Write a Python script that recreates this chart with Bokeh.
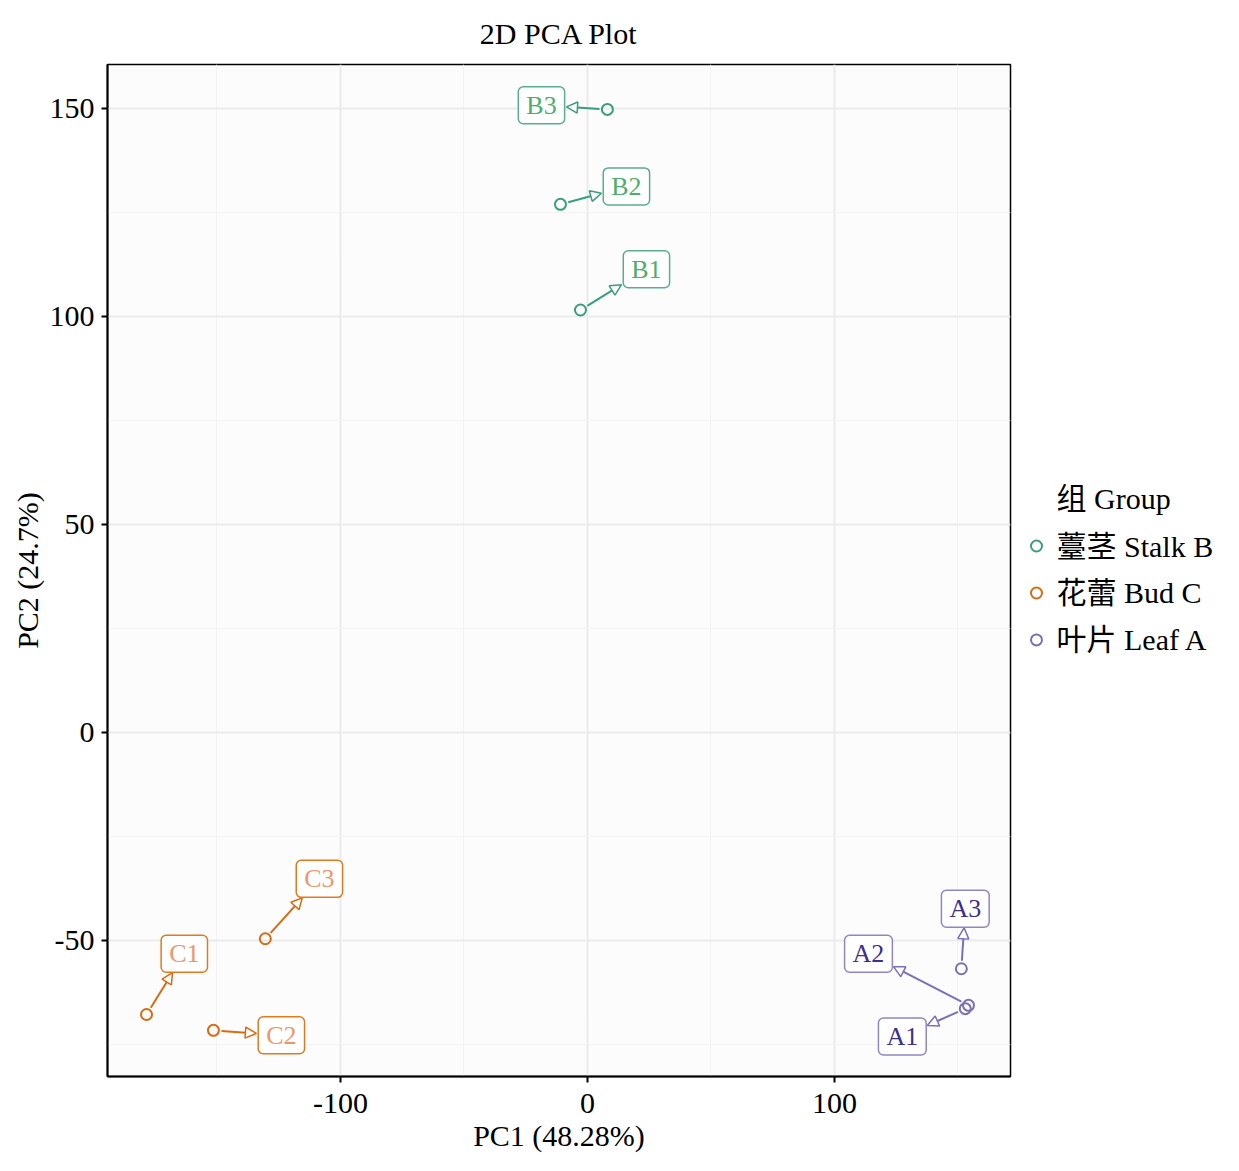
from bokeh.plotting import figure
from bokeh.layouts import row
from bokeh.models import (Range1d, FixedTicker, Label, Arrow, NormalHead, ColumnDataSource)
from bokeh.core.properties import value
from bokeh.embed import file_html
from bokeh.resources import INLINE

# ---- data ----
names = ["B1", "B2", "B3", "C1", "C2", "C3", "A1", "A2", "A3"]
groups = ["Stalk B"] * 3 + ["Bud C"] * 3 + ["Leaf A"] * 3
pc1 = [-2.8, -10.9, 8.1, -178.5, -151.4, -130.4, 153.0, 154.3, 151.4]
pc2 = [101.6, 127.0, 149.8, -67.7, -71.5, -49.5, -66.3, -65.5, -56.7]
# repelled label positions (data units)
label_x = [23.9, 15.8, -18.6, -163.2, -123.9, -108.5, 127.5, 113.8, 153.0]
label_y = [111.4, 131.3, 150.8, -53.1, -72.7, -35.1, -73.0, -53.1, -42.3]

group_order = ["Stalk B", "Bud C", "Leaf A"]
legend_title = "组 Group"
legend_labels = ["薹茎 Stalk B", "花蕾 Bud C", "叶片 Leaf A"]
x_ticks = [-100, 0, 100]
x_minor = [-150, -50, 50, 150]
y_ticks = [-50, 0, 50, 100, 150]
y_minor = [-75, -25, 25, 75, 125]

# ---- styles ----
pt_col = {"Stalk B": "#3A9E7E", "Bud C": "#DA6A10", "Leaf A": "#7B70B8"}
box_col = {"Stalk B": "#5AAE8F", "Bud C": "#E07A1E", "Leaf A": "#8F86C4"}
txt_col = {"Stalk B": "#4DAE6C", "Bud C": "#F0956A", "Leaf A": "#3D2F8C"}
FONT = "'Liberation Serif', 'Noto Sans CJK SC', serif"
FS = "30px"

x0, x1 = -194.3, 171.3
y0, y1 = -82.6, 160.6
FW, FH = 903, 1013
ML, MT, MB, MR = 107, 63, 92, 2
H = MT + FH + MB

p = figure(width=ML + FW + MR, height=H, output_backend="svg", toolbar_location=None,
           x_range=Range1d(x0, x1), y_range=Range1d(y0, y1),
           min_border_left=ML, min_border_top=MT, min_border_bottom=MB, min_border_right=MR,
           background_fill_color="#FCFCFC", border_fill_color="white")

p.title.text = "2D PCA Plot"
p.title.align = "center"
p.title.text_font = FONT
p.title.text_font_size = FS
p.title.text_font_style = "normal"
p.title.text_color = "black"
p.title.standoff = 29

p.xaxis.ticker = FixedTicker(ticks=x_ticks, minor_ticks=x_minor)
p.yaxis.ticker = FixedTicker(ticks=y_ticks, minor_ticks=y_minor)
p.xaxis.major_label_overrides = {t: str(t) for t in x_ticks}
p.yaxis.major_label_overrides = {t: str(t) for t in y_ticks}
p.xaxis.axis_label = "PC1 (48.28%)"
p.yaxis.axis_label = "PC2 (24.7%)"
for ax in (p.xaxis, p.yaxis):
    ax.axis_label_text_font = FONT
    ax.axis_label_text_font_size = FS
    ax.axis_label_text_font_style = "normal"
    ax.axis_label_text_color = "black"
    ax.major_label_text_font = FONT
    ax.major_label_text_font_size = FS
    ax.major_label_text_color = "black"
    ax.axis_line_color = "black"
    ax.axis_line_width = 2
    ax.major_tick_line_color = "black"
    ax.major_tick_line_width = 2
    ax.major_tick_out = 6
    ax.major_tick_in = 0
    ax.minor_tick_line_color = None
    ax.axis_label_standoff = 3
p.xaxis.major_label_standoff = 11
p.yaxis.major_label_standoff = 7

p.outline_line_color = "black"
p.outline_line_width = 1.5
for g in (p.xgrid, p.ygrid):
    g.grid_line_color = "#EBEBEB"
    g.grid_line_width = 2
    g.minor_grid_line_color = "#F3F3F3"
    g.minor_grid_line_width = 1

sx = FW / (x1 - x0)
sy = FH / (y1 - y0)
HW, HH = 25, 19  # half box size (px) incl. small gap
GAP = 8

for gi, grp in enumerate(group_order):
    idx = [i for i, g in enumerate(groups) if g == grp]
    xs_s, ys_s, xs_e, ys_e = [], [], [], []
    for i in idx:
        vx = (pc1[i] - label_x[i]) * sx
        vy = (pc2[i] - label_y[i]) * sy
        s = min(HW / abs(vx) if vx else 1e9, HH / abs(vy) if vy else 1e9)
        ex = label_x[i] + s * vx / sx
        ey = label_y[i] + s * vy / sy
        d = (vx ** 2 + vy ** 2) ** 0.5
        stx = pc1[i] - GAP * vx / d / sx
        sty = pc2[i] - GAP * vy / d / sy
        xs_s.append(stx); ys_s.append(sty); xs_e.append(ex); ys_e.append(ey)
    src = ColumnDataSource(dict(x_start=xs_s, y_start=ys_s, x_end=xs_e, y_end=ys_e))
    p.add_layout(Arrow(source=src, x_start="x_start", y_start="y_start", x_end="x_end", y_end="y_end",
                       line_color=pt_col[grp], line_width=2,
                       end=NormalHead(size=11, fill_color="white", line_color=pt_col[grp], line_width=1.5)))
    psrc = ColumnDataSource(dict(x=[pc1[i] for i in idx], y=[pc2[i] for i in idx]))
    p.scatter("x", "y", source=psrc, marker="circle", size=11, fill_color=None,
              line_color=pt_col[grp], line_width=2)
    for i in idx:
        p.add_layout(Label(x=label_x[i], y=label_y[i], text=names[i], text_align="center",
                           text_baseline="middle", text_font=FONT, text_font_size="26px",
                           text_color=txt_col[grp], background_fill_color="white",
                           border_line_color=box_col[grp], border_line_width=1.5, border_radius=5,
                           padding=dict(left=8, right=8, top=4, bottom=4)))

# ---- legend as a side panel; its frame is aligned with the main frame,
#      so its y range is expressed in page pixels (downward) ----
LW = 222
lg = figure(width=LW, height=H, output_backend="svg", toolbar_location=None,
            x_range=Range1d(0, LW), y_range=Range1d(MT + FH, MT),
            min_border=0, min_border_top=MT, min_border_bottom=MB,
            outline_line_color=None, background_fill_color="white",
            border_fill_color="white")
lg.axis.visible = False
lg.grid.visible = False
KEY_X, TXT_X, TITLE_Y, ROW0, ROW_H = 24, 44, 497, 545, 47
lg.text(x=[TXT_X], y=[TITLE_Y], text=[legend_title], text_font=value(FONT), text_font_size=FS,
        text_baseline="middle", text_align="left", text_color="black")
lsrc = ColumnDataSource(dict(
    x=[KEY_X] * len(group_order),
    tx=[TXT_X] * len(group_order),
    y=[ROW0 + k * ROW_H for k in range(len(group_order))],
    label=legend_labels,
    color=[pt_col[g] for g in group_order]))
lg.scatter("x", "y", source=lsrc, marker="circle", size=11, fill_color=None,
           line_color="color", line_width=2)
lg.text("tx", "y", text="label", source=lsrc, text_font=value(FONT), text_font_size=FS,
        text_baseline="middle", text_align="left", text_color="black")

layout = row(p, lg, spacing=0)
open("out.html", "w").write(file_html(layout, INLINE))
